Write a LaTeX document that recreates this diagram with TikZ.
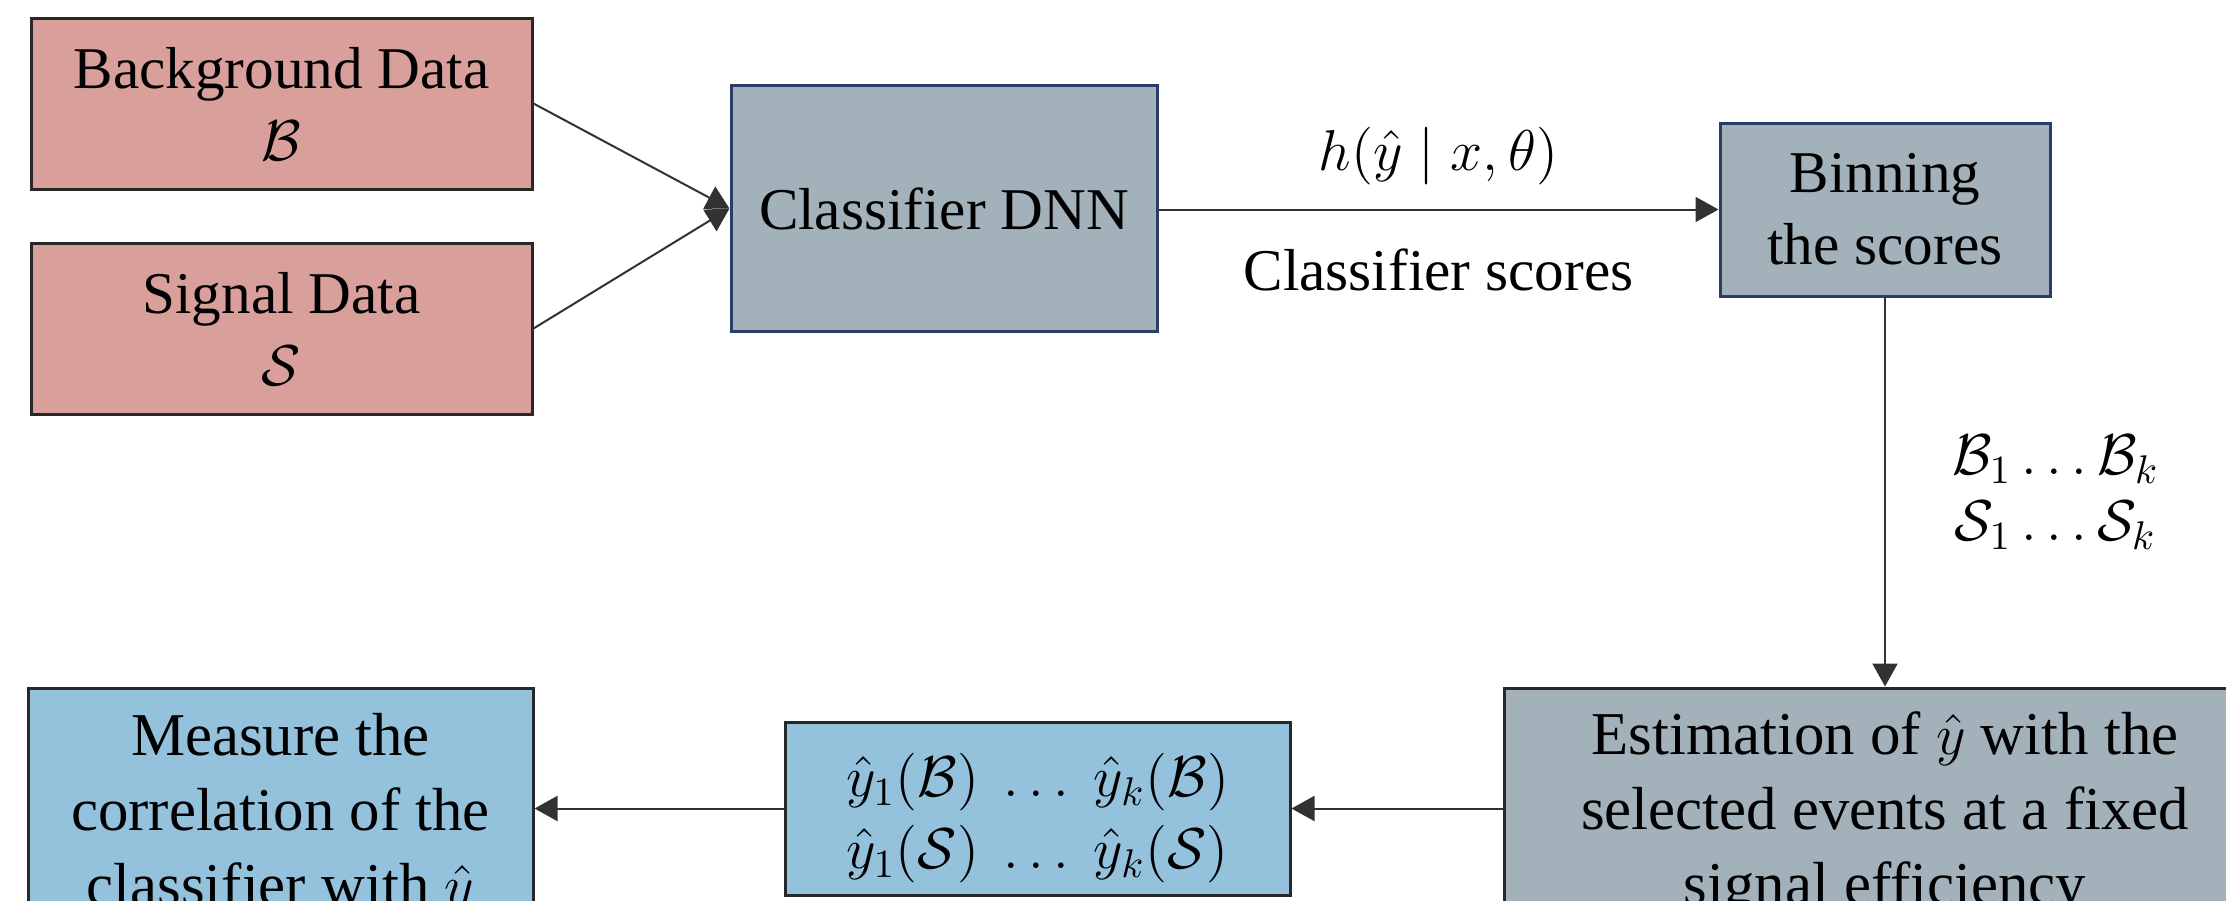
\documentclass[tikz,border=0pt]{standalone}
\usepackage{fontspec}
\setmainfont{Liberation Serif}
\usetikzlibrary{arrows.meta}
\definecolor{pinkfill}{RGB}{217,159,154}
\definecolor{grayfill}{RGB}{162,177,186}
\definecolor{bluefill}{RGB}{148,194,221}
\definecolor{navyedge}{RGB}{40,62,104}
\definecolor{darkedge}{RGB}{40,40,40}
\definecolor{linegray}{RGB}{50,50,50}
\begin{document}
\begin{tikzpicture}[x=0.25pt,y=-0.25pt,
  font=\fontsize{14.8}{18}\selectfont,
  box/.style={draw, line width=0.75pt, align=center, inner sep=0pt},
  databox/.style={box, fill=pinkfill, draw=darkedge, minimum width=125.25pt, minimum height=42.75pt},
  procbox/.style={box, fill=grayfill, draw=navyedge},
  resbox/.style={box, fill=bluefill, draw=darkedge},
  tallbox/.style={font=\fontsize{15.2}{18.75}\selectfont},
  conn/.style={draw=linegray, line width=0.5pt, -{Triangle[width=6.25pt,length=5.75pt]}},
  lbl/.style={inner sep=0pt, align=center}
]
\useasboundingbox (0,0) rectangle (2226,900);
\clip (0,0) rectangle (2226,900);

\node[databox] (bg) at (281.5,103.5) {Background Data\\$\mathcal{B}$};
\node[databox] (sig) at (281.5,328.5) {Signal Data\\$\mathcal{S}$};
\node[procbox, minimum width=106.5pt, minimum height=61.5pt] (dnn) at (944,208.5) {Classifier DNN};
\node[procbox, minimum width=82.5pt, minimum height=43.25pt] (bin) at (1885,209.5) {Binning\\the scores};
\node[box, tallbox, fill=grayfill, draw=darkedge, minimum width=190.5pt, minimum height=63.5pt] (est) at (1885,815)
  {Estimation of $\hat{y}$ with the\\selected events at a fixed\\signal efficiency};
\node[resbox, minimum width=126.25pt, minimum height=43.25pt] (mid) at (1037.5,808.5) {};
\node[lbl] (midtxt) at ([yshift=-2.5pt]mid.center)
  {$\hat{y}_1(\mathcal{B})\ \dots\ \hat{y}_k(\mathcal{B})$\\$\hat{y}_1(\mathcal{S})\ \dots\ \hat{y}_k(\mathcal{S})$};
\node[resbox, tallbox, minimum width=126.25pt, minimum height=63.5pt] (meas) at (280.5,815)
  {Measure the\\correlation of the\\classifier with $\hat{y}$};

\draw[conn] (bg.east) -- (dnn.west);
\draw[conn] (sig.east) -- (dnn.west);
\draw[conn] (dnn.east |- bin.west) -- (bin.west)
  node[lbl, midway, yshift=13.25pt] (hlab) {$h(\hat{y} \mid x, \theta)$}
  node[lbl, midway, yshift=-15pt] (cslab) {Classifier scores};
\draw[conn] (bin.south) -- (est.north)
  node[lbl, midway, anchor=west, xshift=16.5pt] (bslab) {$\mathcal{B}_1 \dots \mathcal{B}_k$\\[-1.5pt]$\mathcal{S}_1 \dots \mathcal{S}_k$};
\draw[conn] (est.west |- mid.east) -- (mid.east);
\draw[conn] (mid.west) -- (meas.east |- mid.west);
\end{tikzpicture}
\end{document}
